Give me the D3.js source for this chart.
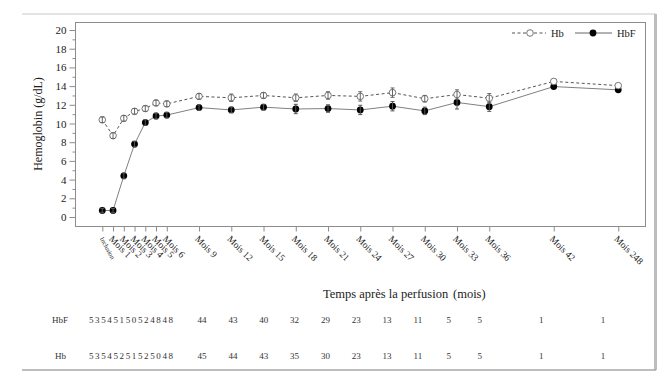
<!DOCTYPE html>
<html>
<head>
<meta charset="utf-8">
<script src="https://cdnjs.cloudflare.com/ajax/libs/d3/7.8.5/d3.min.js"></script>
<style>
  body { margin: 0; background: #fff; }
  svg text { font-family: "Liberation Serif", "Times New Roman", serif; fill: #222; }
</style>
</head>
<body>
<div id="chart"></div>
<script>
// visits (months after infusion) and their labels
var months = [0, 1, 2, 3, 4, 5, 6, 9, 12, 15, 18, 21, 24, 27, 30, 33, 36, 42, 48];
var monthLabels = ['Inclusion', 'Mois 1', 'Mois 2', 'Mois 3', 'Mois 4', 'Mois 5', 'Mois 6', 'Mois 9',
  'Mois 12', 'Mois 15', 'Mois 18', 'Mois 21', 'Mois 24', 'Mois 27', 'Mois 30', 'Mois 33', 'Mois 36',
  'Mois 42', 'Mois 248'];

// mean values (g/dL) and error bars
var hbValues = [10.4, 8.7, 10.55, 11.3, 11.6, 12.2, 12.1, 12.9, 12.75, 13.0, 12.75, 13.0, 12.9, 13.3, 12.65, 13.1, 12.7, 14.5, 14.05];
var hbErr = [0.3, 0.3, 0.3, 0.3, 0.3, 0.3, 0.3, 0.3, 0.4, 0.3, 0.4, 0.4, 0.5, 0.5, 0.35, 0.5, 0.5, 0, 0];
var hbfValues = [0.7, 0.7, 4.4, 7.8, 10.1, 10.8, 10.9, 11.7, 11.45, 11.75, 11.55, 11.6, 11.45, 11.85, 11.35, 12.25, 11.8, 13.95, 13.6];
var hbfErr = [0.2, 0.2, 0.3, 0.3, 0.3, 0.3, 0.3, 0.3, 0.3, 0.3, 0.5, 0.4, 0.5, 0.5, 0.4, 0.7, 0.5, 0, 0];

// number of patients per visit
var nHbF = [53, 54, 51, 50, 52, 48, 48, 44, 43, 40, 32, 29, 23, 13, 11, 5, 5, 1, 1];
var nHb = [53, 54, 52, 51, 52, 50, 48, 45, 44, 43, 35, 30, 23, 13, 11, 5, 5, 1, 1];

var yTicks = [0, 2, 4, 6, 8, 10, 12, 14, 16, 18, 20];

var serif = '"Liberation Serif", "Times New Roman", serif';
var w = 660, h = 373;
var pLeft = 75, pRight = 645, pTop = 22, pBottom = 226;

var svg = d3.select('#chart').append('svg')
    .attr('width', w)
    .attr('height', h);

// outer frame (top, right, bottom)
svg.append('line').attr('x1', 22).attr('x2', 656).attr('y1', 14).attr('y2', 14)
    .attr('stroke', '#c8c8c8').attr('stroke-width', 1);
svg.append('line').attr('x1', 655.5).attr('x2', 655.5).attr('y1', 14).attr('y2', 370)
    .attr('stroke', '#bdbdbd').attr('stroke-width', 3);
svg.append('line').attr('x1', 22).attr('x2', 656).attr('y1', 370).attr('y2', 370)
    .attr('stroke', '#a8a8a8').attr('stroke-width', 1.5);

var xScale = d3.scaleLinear()
    .domain([-2.54, 50.49])
    .range([pLeft, pRight]);

var yScale = d3.scaleLinear()
    .domain([0, 20])
    .range([217, 30]);

// plot frame
svg.append('rect')
    .attr('x', pLeft + 0.5).attr('y', pTop + 0.5)
    .attr('width', pRight - pLeft).attr('height', pBottom - pTop)
    .attr('fill', 'none')
    .attr('stroke', '#8c8c8c');

// y axis
var yAxis = d3.axisLeft(yScale).tickValues(yTicks).tickSize(6).tickPadding(3);
var yMinor = d3.axisLeft(yScale).tickValues(d3.range(1, 20, 2)).tickSize(3).tickFormat('');

var gy = svg.append('g')
    .attr('class', 'y axis')
    .attr('transform', 'translate(' + (pLeft + 0.5) + ',0)')
    .call(yAxis)
    .attr('font-family', serif);
svg.append('g')
    .attr('transform', 'translate(' + (pLeft + 0.5) + ',0)')
    .call(yMinor)
    .select('.domain').remove();
gy.select('.domain').remove();
svg.selectAll('.tick line').attr('stroke', '#8c8c8c');
gy.selectAll('text')
    .style('font-family', serif)
    .style('font-size', '11px');

svg.append('text')
    .attr('transform', 'translate(42,' + ((pTop + pBottom) / 2) + ') rotate(-90)')
    .style('text-anchor', 'middle')
    .style('font-family', serif)
    .style('font-size', '12px')
    .text('Hemoglobin (g/dL)');

// x axis
var xAxis = d3.axisBottom(xScale)
    .tickValues(months)
    .tickSize(5)
    .tickFormat(function(d, i) { return monthLabels[i]; });

var gx = svg.append('g')
    .attr('class', 'x axis')
    .attr('transform', 'translate(0,' + (pBottom + 0.5) + ')')
    .call(xAxis)
    .attr('font-family', serif);
gx.select('.domain').remove();
gx.selectAll('.tick line').attr('stroke', '#8c8c8c');
gx.selectAll('text')
    .attr('x', 0).attr('y', 0).attr('dy', 0)
    .style('text-anchor', 'start')
    .style('font-family', serif)
    .style('font-size', function(d, i) { return i == 0 ? '6.5px' : '9.5px'; })
    .attr('transform', function(d, i) {
        return i == 0 ? 'translate(-3,12) rotate(62)' : 'translate(-5,13) rotate(45)';
    });

svg.append('text')
    .attr('x', 323).attr('y', 298)
    .style('font-family', serif)
    .style('font-size', '12.5px')
    .text('Temps après la perfusion');
svg.append('text')
    .attr('x', 453).attr('y', 298)
    .style('font-family', serif)
    .style('font-size', '12.5px')
    .text('(mois)');

// lines
var hbPts = months.map(function(m, i) { return { m: m, v: hbValues[i], e: hbErr[i] }; });
var hbfPts = months.map(function(m, i) { return { m: m, v: hbfValues[i], e: hbfErr[i] }; });

var line = d3.line()
    .x(function(d) { return xScale(d.m); })
    .y(function(d) { return yScale(d.v); });

svg.append('path')
    .datum(hbfPts)
    .attr('d', line)
    .attr('fill', 'none')
    .attr('stroke', '#808080')
    .attr('stroke-width', 1);

svg.append('path')
    .datum(hbPts)
    .attr('d', line)
    .attr('fill', 'none')
    .attr('stroke', '#555')
    .attr('stroke-width', 1)
    .attr('stroke-dasharray', '3,2.5');

function errorBars(pts, color) {
    var g = svg.append('g');
    pts.filter(function(d) { return d.e > 0; }).forEach(function(d) {
        var x = xScale(d.m);
        var y1 = yScale(d.v - d.e), y2 = yScale(d.v + d.e);
        g.append('line').attr('x1', x).attr('x2', x).attr('y1', y1).attr('y2', y2)
            .attr('stroke', color).attr('stroke-width', 1);
        g.append('line').attr('x1', x - 2).attr('x2', x + 2).attr('y1', y1).attr('y2', y1)
            .attr('stroke', color).attr('stroke-width', 1);
        g.append('line').attr('x1', x - 2).attr('x2', x + 2).attr('y1', y2).attr('y2', y2)
            .attr('stroke', color).attr('stroke-width', 1);
    });
}

svg.selectAll('hbfdots')
    .data(hbfPts)
    .enter()
    .append('circle')
    .attr('cx', function(d) { return xScale(d.m); })
    .attr('cy', function(d) { return yScale(d.v); })
    .attr('r', 3.4)
    .attr('fill', '#000');
errorBars(hbfPts, '#555');

svg.selectAll('hbdots')
    .data(hbPts)
    .enter()
    .append('circle')
    .attr('cx', function(d) { return xScale(d.m); })
    .attr('cy', function(d) { return yScale(d.v); })
    .attr('r', 3.3)
    .attr('fill', '#fff')
    .attr('stroke', '#666')
    .attr('stroke-width', 0.9);
errorBars(hbPts, '#666');

// legend
var ly = 33;
svg.append('line').attr('x1', 512).attr('x2', 546).attr('y1', ly).attr('y2', ly)
    .attr('stroke', '#555').attr('stroke-dasharray', '3,2.5');
svg.append('circle').attr('cx', 530).attr('cy', ly).attr('r', 3.3)
    .attr('fill', '#fff').attr('stroke', '#666').attr('stroke-width', 0.9);
svg.append('text').attr('x', 551).attr('y', ly + 3.5)
    .style('font-family', serif).style('font-size', '10.5px').text('Hb');

svg.append('line').attr('x1', 575).attr('x2', 612).attr('y1', ly).attr('y2', ly)
    .attr('stroke', '#666');
svg.append('circle').attr('cx', 593).attr('cy', ly).attr('r', 3.4).attr('fill', '#000');
svg.append('text').attr('x', 617).attr('y', ly + 3.5)
    .style('font-family', serif).style('font-size', '10.5px').text('HbF');

// table of patient numbers
var tableScale = d3.scaleLinear().domain([0, 48]).range([109.5, 603]);

function tableRow(label, counts, y, labelX) {
    svg.append('text').attr('x', labelX).attr('y', y)
        .style('text-anchor', 'end').style('font-family', serif).style('font-size', '9px')
        .style('fill', '#333').text(label);
    // first visits are printed run together
    svg.append('text').attr('x', 89).attr('y', y)
        .style('font-family', serif).style('font-size', '9px').style('fill', '#333')
        .attr('textLength', 84)
        .text(counts.slice(0, 7).join(''));
    svg.selectAll('cells')
        .data(counts.slice(7))
        .enter()
        .append('text')
        .attr('x', function(d, i) { return tableScale(months[i + 7]); })
        .attr('y', y)
        .style('text-anchor', 'middle')
        .style('font-family', serif)
        .style('font-size', '9px')
        .style('fill', '#333')
        .text(function(d) { return d; });
}
tableRow('HbF', nHbF, 323, 68);
tableRow('Hb', nHb, 359, 66);
</script>
</body>
</html>
